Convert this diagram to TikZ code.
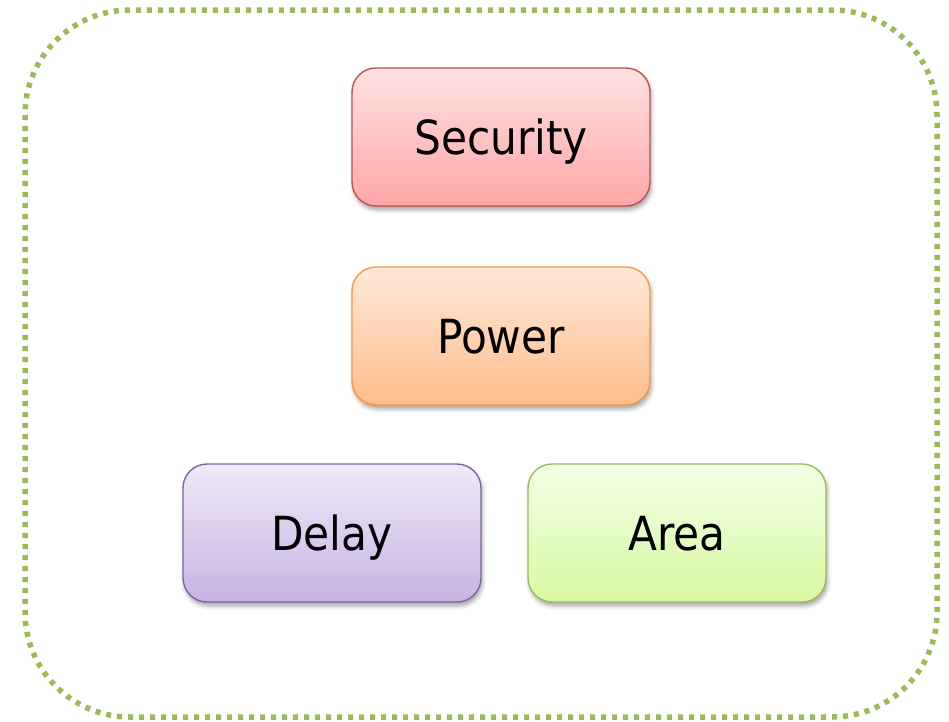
\documentclass[tikz,border=0pt]{standalone}
\usepackage{fontspec}
\setmainfont{DejaVu Sans Condensed}
\usetikzlibrary{shadows.blur}
\definecolor{frameGreen}{HTML}{9BBB59}
\definecolor{redEdge}{HTML}{C0504D}
\definecolor{redTop}{HTML}{FFE1E1}
\definecolor{redBot}{HTML}{FFA6A6}
\definecolor{orEdge}{HTML}{F79646}
\definecolor{orTop}{HTML}{FFE8D9}
\definecolor{orBot}{HTML}{FFBD8A}
\definecolor{puEdge}{HTML}{8064A2}
\definecolor{puTop}{HTML}{F0EAF8}
\definecolor{puBot}{HTML}{C8B2E2}
\definecolor{grEdge}{HTML}{9BBB59}
\definecolor{grTop}{HTML}{F2FFE6}
\definecolor{grBot}{HTML}{D8F9A2}
\tikzset{
  metric/.style={draw=#1Edge, line width=1.4pt, rounded corners=24pt,
    minimum width=298pt, minimum height=138pt, inner sep=0pt,
    text height=34pt, text depth=0pt,
    top color=#1Top, bottom color=#1Bot,
    blur shadow={shadow xshift=1.5pt, shadow yshift=-4pt, shadow blur radius=4pt, shadow opacity=35},
    font=\fontsize{47}{52}\selectfont},
  frame/.style={draw=frameGreen, line width=5.5pt, dash pattern=on 5pt off 6pt,
    rounded corners=105pt}
}
\begin{document}
\begin{tikzpicture}[x=1pt, y=-1pt]
  \useasboundingbox (0,0) rectangle (949,721);
  % dotted outer frame
  \draw[frame] (25,10) rectangle (937,717);
  % design metrics
  \node[metric=red] (security) at (501,137) {Security};
  \node[metric=or]  (power)    at (501,336) {Power};
  \node[metric=pu]  (delay)    at (332,533) {Delay};
  \node[metric=gr]  (area)     at (677,533) {Area};
\end{tikzpicture}
\end{document}
